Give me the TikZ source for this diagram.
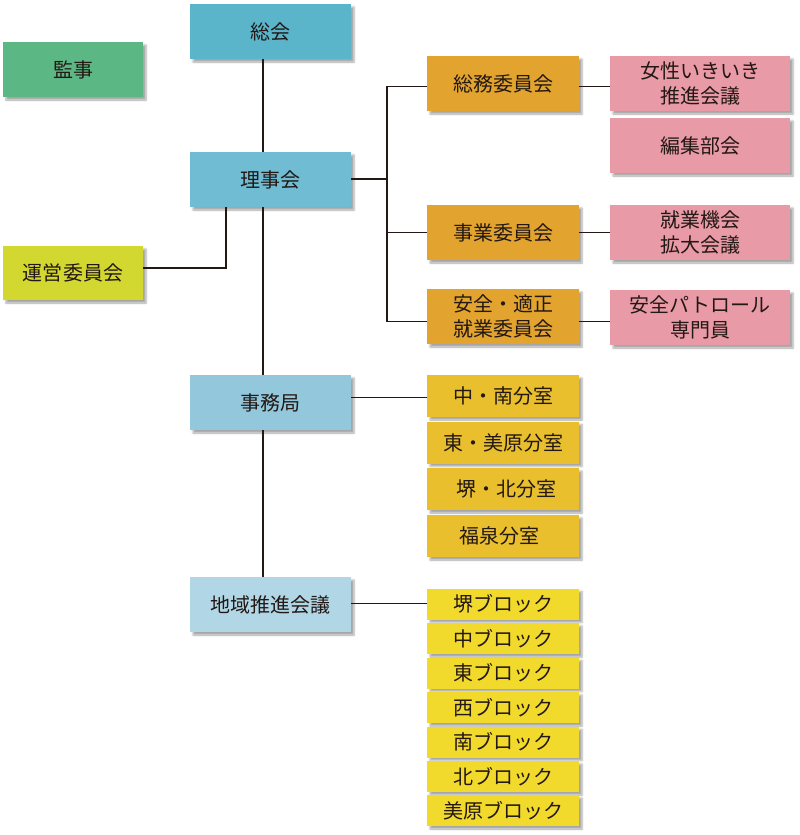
\documentclass[tikz,border=0pt]{standalone}
\usepackage{fontspec}
\setmainfont{Noto Sans CJK JP}
\usetikzlibrary{shadows.blur,calc}
\definecolor{cSoukai}{HTML}{5AB4CA}
\definecolor{cRiji}{HTML}{6FBCD3}
\definecolor{cJimu}{HTML}{93C7DB}
\definecolor{cChiiki}{HTML}{B1D7E6}
\definecolor{cKanji}{HTML}{5BB884}
\definecolor{cUnei}{HTML}{D3D831}
\definecolor{cOrange}{HTML}{E2A42E}
\definecolor{cPink}{HTML}{E89AA6}
\definecolor{cBun}{HTML}{E9BF2D}
\definecolor{cBlock}{HTML}{F2DA2D}
\definecolor{cInk}{HTML}{231815}
\tikzset{
  box/.style={rectangle, inner sep=0pt, align=center, text=cInk,
    font=\fontsize{20}{25}\selectfont,
    blur shadow={shadow xshift=3pt, shadow yshift=-3pt, shadow blur radius=2pt, shadow opacity=35}},
  bigbox/.style={box, minimum width=161pt, minimum height=55pt},
  sidebox/.style={box, minimum width=140pt, minimum height=55pt},
  combox/.style={box, minimum width=152pt, minimum height=55pt, fill=cOrange},
  pinkbox/.style={box, minimum width=180pt, minimum height=55pt, fill=cPink},
  bunbox/.style={box, minimum width=152pt, minimum height=42pt, fill=cBun},
  blockbox/.style={box, minimum width=152pt, minimum height=31pt, fill=cBlock},
  link/.style={draw=cInk, line width=1.8pt}
}
\begin{document}
\begin{tikzpicture}[x=1pt,y=-1pt]
\useasboundingbox (0,0) rectangle (800,835);
% nodes
\node[bigbox, fill=cSoukai] (souka) at (270.5,31.5) {総会};
\node[sidebox, fill=cKanji] (kanji) at (73,69.5) {監事};
\node[bigbox, fill=cRiji] (riji) at (270.5,179.5) {理事会};
\node[sidebox, fill=cUnei, minimum height=54pt] (unei) at (73,273) {運営委員会};
\node[combox] (soumu) at (503,83.5) {総務委員会};
\node[pinkbox] (josei) at (700,83.5) {女性いきいき\\推進会議};
\node[pinkbox] (henshu) at (700,145.5) {編集部会};
\node[combox] (jigyo) at (503,232.5) {事業委員会};
\node[pinkbox] (shugyo) at (700,232.5) {就業機会\\拡大会議};
\node[combox] (anzen) at (503,316.5) {安全・適正\\就業委員会};
\node[pinkbox] (patrol) at (700,317.5) {安全パトロール\\専門員};
\node[bigbox, fill=cJimu] (jimu) at (270.5,402.5) {事務局};
\node[bunbox] (bun1) at (503,396) {中・南分室};
\node[bunbox] (bun2) at (503,442.5) {東・美原分室};
\node[bunbox] (bun3) at (503,489) {\hspace{6pt}堺・北分室};
\node[bunbox] (bun4) at (503,536) {福泉分室\hspace{8pt}};
\node[bigbox, fill=cChiiki] (chiiki) at (270.5,604.5) {地域推進会議};
\node[blockbox] (blk1) at (503,604) {堺ブロック};
\node[blockbox] (blk2) at (503,638.5) {中ブロック};
\node[blockbox] (blk3) at (503,673) {東ブロック};
\node[blockbox] (blk4) at (503,707.5) {西ブロック};
\node[blockbox] (blk5) at (503,742) {南ブロック};
\node[blockbox] (blk6) at (503,776.5) {北ブロック};
\node[blockbox] (blk7) at (503,810.5) {美原ブロック};
% helper coordinates
\coordinate (spine) at (263,0);
\coordinate (bus) at (387,179);
\coordinate (uneiBend) at (226,268);
% connectors
\draw[link] (souka.south -| spine) -- (riji.north -| spine);
\draw[link] (riji.south -| spine) -- (jimu.north -| spine);
\draw[link] (jimu.south -| spine) -- (chiiki.north -| spine);
\draw[link] (riji.south -| uneiBend) -- (uneiBend) -- (uneiBend -| unei.east);
\draw[link] (riji.east |- bus) -- (bus);
\draw[link] ($(soumu.west)+(0,3)$) -- ($(soumu.west -| bus)+(0,3)$) -- ($(anzen.west -| bus)+(0,5)$) -- ($(anzen.west)+(0,5)$);
\draw[link] (jigyo.west) -- (jigyo.west -| bus);
\draw[link] ($(soumu.east)+(0,3)$) -- ($(josei.west)+(0,3)$);
\draw[link] (jigyo.east) -- (shugyo.west |- jigyo.east);
\draw[link] ($(anzen.east)+(0,5)$) -- ($(patrol.west |- anzen.east)+(0,5)$);
\draw[link] ($(jimu.east)+(0,-5)$) -- ($(bun1.west |- jimu.east)+(0,-5)$);
\draw[link] ($(chiiki.east)+(0,-1)$) -- ($(blk1.west |- chiiki.east)+(0,-1)$);
\end{tikzpicture}
\end{document}
